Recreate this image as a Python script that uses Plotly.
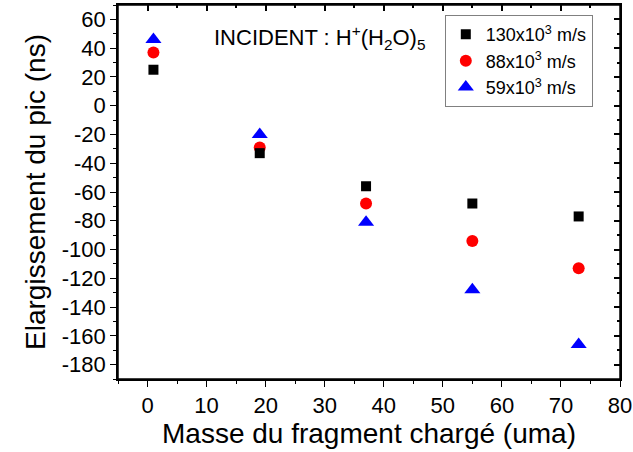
import plotly.graph_objects as go

masse = [1, 19, 37, 55, 73]
v130 = [25, -33, -56, -68, -77]
v88 = [37, -29, -68, -94, -113]
v59 = [46, -20, -81, -128, -166]

noms = ["130x10<sup>3</sup> m/s", "88x10<sup>3</sup> m/s", "59x10<sup>3</sup> m/s"]
y_ticks = [60, 40, 20, 0, -20, -40, -60, -80, -100, -120, -140, -160, -180]
y_labels = ["60", "40", "20", "0", "-20", "-40", "-60", "-80", "-100", "-120", "-140", "-160", "-180"]

police = "Liberation Sans, Arial, sans-serif"

fig = go.Figure()
# la premiere serie porte les axes du haut (x2) et de droite (y2), memes echelles
fig.add_trace(go.Scatter(x=masse, y=v130, mode="markers", name=noms[0], xaxis="x2", yaxis="y2",
                         marker=dict(symbol="square", size=10, color="black")))
fig.add_trace(go.Scatter(x=masse, y=v88, mode="markers", name=noms[1],
                         marker=dict(symbol="circle", size=12, color="#ff0000")))
fig.add_trace(go.Scatter(x=masse, y=v59, mode="markers", name=noms[2],
                         marker=dict(symbol="triangle-up", size=14, color="#0000ff")))

axe = dict(showgrid=False, zeroline=False, showline=True, linecolor="black", linewidth=1.5,
           mirror=True, ticks="outside", ticklen=6, tickcolor="black", tickwidth=1,
           automargin=False, tickfont=dict(size=22, color="black", family=police))

miroir = dict(showline=True, linecolor="black", linewidth=1.5, ticks="inside", ticklen=6,
              tickcolor="black", tickwidth=1.5, showticklabels=False, showgrid=False,
              zeroline=False, automargin=False, domain=[0, 1])

fig.update_layout(
    width=633, height=452,
    paper_bgcolor="white", plot_bgcolor="rgba(0,0,0,0)",
    font=dict(family=police, color="black"),
    margin=dict(l=118, r=13, t=5, b=73),
    xaxis=dict(axe, range=[-5, 80], dtick=10, tick0=0,
               minor=dict(dtick=5, ticks="outside", ticklen=3, tickcolor="black"),
               title=dict(text="Masse du fragment chargé (uma)", font=dict(size=28), standoff=3)),
    yaxis=dict(axe, range=[-190, 70], tickvals=y_ticks, ticktext=y_labels,
               minor=dict(dtick=10, tick0=0, ticks="outside", ticklen=3, tickcolor="black"),
               title=dict(text="Elargissement du pic (ns)", font=dict(size=28), standoff=8)),
    xaxis2=dict(miroir, side="top", anchor="y2", range=[-5, 80], dtick=10, tick0=0,
                minor=dict(dtick=5, ticks="inside", ticklen=3, tickcolor="black")),
    yaxis2=dict(miroir, side="right", anchor="x2", range=[-190, 70], dtick=20, tick0=0,
                minor=dict(dtick=10, ticks="inside", ticklen=3, tickcolor="black")),
    legend=dict(x=0.651, y=0.973, xanchor="left", yanchor="top",
                bordercolor="#808080", borderwidth=1, bgcolor="white",
                font=dict(size=18, family=police, color="black")),
    showlegend=True,
)

# cadre complet autour de la zone de trace
fig.add_shape(type="rect", xref="paper", yref="paper", x0=0, y0=0, x1=1, y1=1,
              line=dict(color="black", width=1.5), layer="above")

fig.add_annotation(text="INCIDENT : H<sup>+</sup>(H<sub>2</sub>O)<sub>5</sub>",
                   xref="paper", yref="paper", x=0.187, y=0.914,
                   xanchor="left", yanchor="middle", showarrow=False,
                   font=dict(size=22, family=police, color="black"))

fig.write_html("out.html", config={"displayModeBar": False},
               post_script="document.body.style.margin='0';")
